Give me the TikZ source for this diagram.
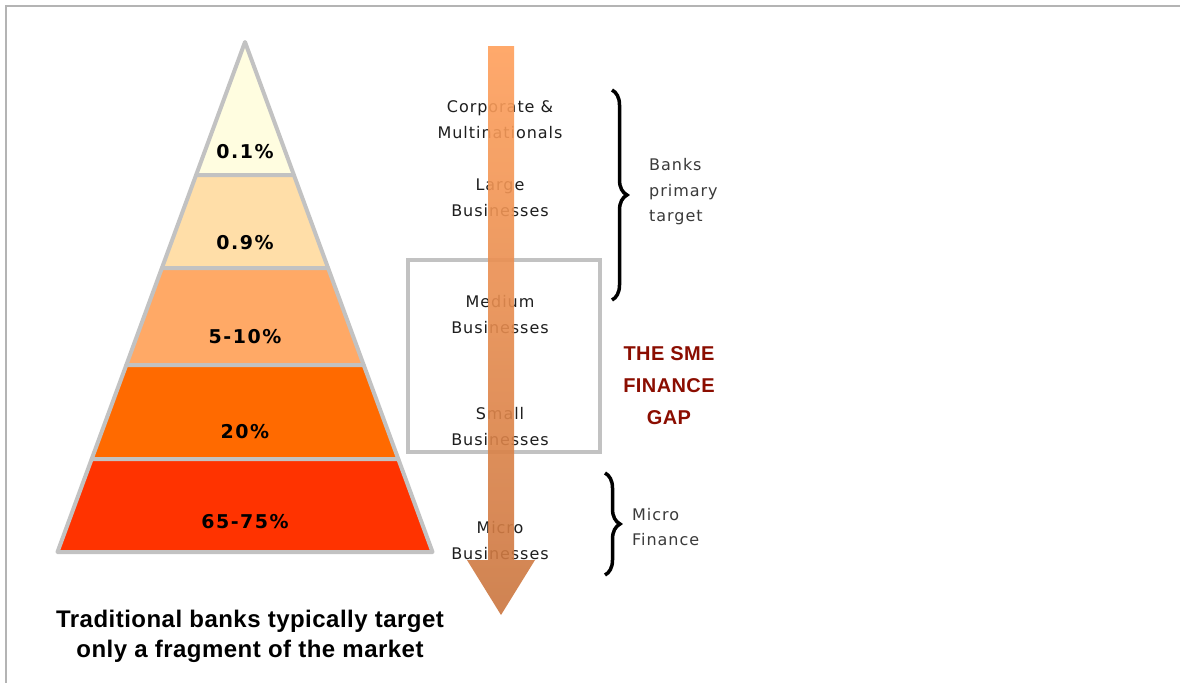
\documentclass[tikz,border=0pt]{standalone}
\usepackage{fontspec}
\setmainfont{DejaVu Sans}
\newfontfamily\pctfont[LetterSpace=8]{DejaVu Sans}
\newfontfamily\labfont[LetterSpace=6]{DejaVu Sans}
\newfontfamily\capfont[LetterSpace=2]{Liberation Sans}
\newfontfamily\gapfont[LetterSpace=2]{Liberation Sans}
\usetikzlibrary{decorations.pathreplacing}

\definecolor{framegray}{HTML}{B4B4B4}
\definecolor{edgegray}{HTML}{C2C2C2}
\definecolor{tierA}{HTML}{FFFDE0}
\definecolor{tierB}{HTML}{FFDEA8}
\definecolor{tierC}{HTML}{FFA966}
\definecolor{tierD}{HTML}{FF6A00}
\definecolor{tierE}{HTML}{FF3300}
\definecolor{arrowtop}{HTML}{FFA05C}
\definecolor{arrowbot}{HTML}{CB7640}
\definecolor{gapred}{HTML}{8B0D00}
\definecolor{labgray}{HTML}{1E1E1E}
\definecolor{sidegray}{HTML}{3A3A3A}

\tikzset{
  tier/.style={draw=edgegray, line width=4pt, line join=round},
  pct/.style={font=\pctfont\bfseries\fontsize{19}{22}\selectfont, text=black},
  biz/.style={font=\labfont\fontsize{16}{26}\selectfont, text=labgray, align=center, inner sep=0pt},
  side/.style={font=\labfont\fontsize{16}{25.5}\selectfont, text=sidegray, align=left, inner sep=0pt, anchor=west},
  gap/.style={font=\gapfont\bfseries\fontsize{20}{32}\selectfont, text=gapred, align=center, inner sep=0pt},
  caption/.style={font=\capfont\bfseries\fontsize{24}{30}\selectfont, text=black, align=center, inner sep=0pt},
  bracket/.style={decorate, decoration={brace, amplitude=15pt}, line width=3.5pt, black},
}

\begin{document}
\begin{tikzpicture}[x=1pt, y=1pt]
\useasboundingbox (0,0) rectangle (1180,-683);
\fill[white] (0,0) rectangle (1180,-683);

% open frame along the top and left
\draw[framegray, line width=2pt] (1180,-6) -- (6,-6) -- (6,-683);

% pyramid corners
\coordinate (apex) at (245,-42);
\coordinate (l1) at (196.1,-175) ; \coordinate (r1) at (293.9,-175);
\coordinate (l2) at (161.9,-268) ; \coordinate (r2) at (328.1,-268);
\coordinate (l3) at (126.3,-365) ; \coordinate (r3) at (363.7,-365);
\coordinate (l4) at (91.7,-459)  ; \coordinate (r4) at (398.3,-459);
\coordinate (l5) at (57.5,-552)  ; \coordinate (r5) at (432.5,-552);

% pyramid tiers
\filldraw[tier, fill=tierA] (apex) -- (r1) -- (l1) -- cycle;
\filldraw[tier, fill=tierB] (l1) -- (r1) -- (r2) -- (l2) -- cycle;
\filldraw[tier, fill=tierC] (l2) -- (r2) -- (r3) -- (l3) -- cycle;
\filldraw[tier, fill=tierD] (l3) -- (r3) -- (r4) -- (l4) -- cycle;
\filldraw[tier, fill=tierE] (l4) -- (r4) -- (r5) -- (l5) -- cycle;

\node[pct] (p1) at (245,-152) {0.1\%};
\node[pct] (p2) at (245,-243) {0.9\%};
\node[pct] (p3) at (245,-337) {5-10\%};
\node[pct] (p4) at (245,-432) {20\%};
\node[pct] (p5) at (245,-522) {65-75\%};

\node[caption] (cap) at (250,-636) {Traditional banks typically target\\only a fragment of the market};

% SME box
\node[draw=edgegray, line width=3.5pt, minimum width=192pt, minimum height=192pt, inner sep=0pt] (smebox) at (504,-356) {};

% business segment labels
\node[biz] (corp) at (500,-120) {Corporate \&\\Multinationals};
\node[biz] (large) at (500,-198) {Large\\Businesses};
\node[biz] (medium) at (500,-315) {Medium\\Businesses};
\node[biz] (small) at (500,-427) {Small\\Businesses};
\node[biz] (micro) at (500,-541) {Micro\\Businesses};

% braces and their notes
\coordinate (b1top) at (612,-90);
\coordinate (b1bot) at (612,-300);
\coordinate (b2top) at (605,-473);
\coordinate (b2bot) at (605,-575);
\draw[bracket] (b1top) -- (b1bot);
\draw[bracket] (b2top) -- (b2bot);

\node[side] (banks) at (649,-192) {Banks\\primary\\target};
\node[side] (mfin) at (632,-527) {Micro\\Finance};

\node[gap] (gaptxt) at (669,-386) {THE SME\\FINANCE\\GAP};

% downward arrow across the segments
\coordinate (atop) at (501,-46);
\coordinate (atip) at (501,-615);
\shade[top color=arrowtop, bottom color=arrowbot, opacity=0.9]
  ([xshift=-13pt]atop) -- ([xshift=13pt]atop) -- (514,-560) -- (535,-560)
  -- (atip) -- (467,-560) -- (488,-560) -- cycle;
\end{tikzpicture}
\end{document}
